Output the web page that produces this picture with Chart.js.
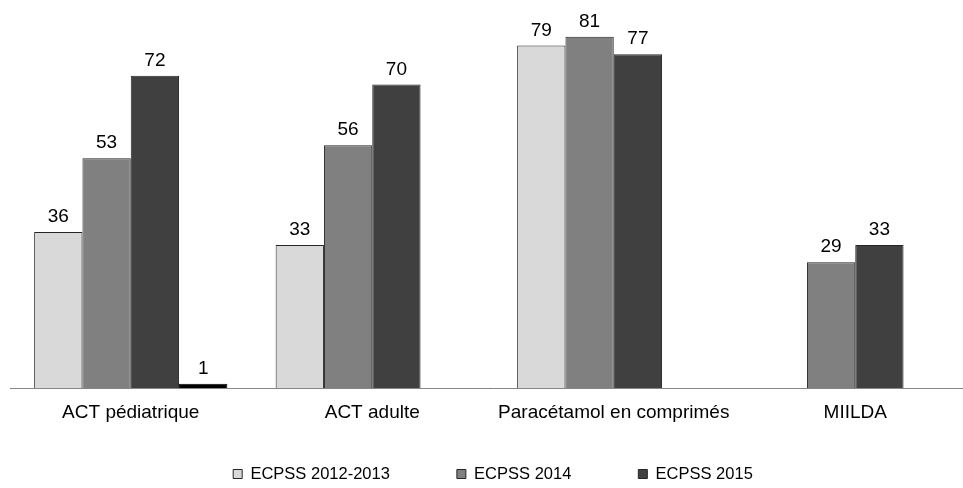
<!DOCTYPE html>
<html lang="fr">
<head>
<meta charset="utf-8">
<title>ECPSS</title>
<script src="https://cdn.jsdelivr.net/npm/chart.js@4/dist/chart.umd.min.js"></script>
<style>
  html, body { margin: 0; padding: 0; background: #fff; overflow: hidden; }
</style>
</head>
<body>
<canvas id="graphique" width="976" height="488"></canvas>
<script>
const categories = ['ACT pédiatrique', 'ACT adulte', 'Paracétamol en comprimés', 'MIILDA'];
const ecpss_2012_2013 = [36, 33, 79, null];
const ecpss_2014 = [53, 56, 81, 29];
const ecpss_2015 = [72, 70, 77, 33];
const autre = [1, null, null, null];

const police = '"Liberation Sans", Arial, sans-serif';

// valeurs au-dessus des barres
const etiquettes = {
    id: 'etiquettes',
    afterDatasetsDraw(chart) {
        const ctx = chart.ctx;
        ctx.save();
        ctx.font = '19px ' + police;
        ctx.fillStyle = '#000';
        ctx.textAlign = 'center';
        ctx.textBaseline = 'alphabetic';
        chart.data.datasets.forEach((ds, i) => {
            chart.getDatasetMeta(i).data.forEach((bar, j) => {
                const v = ds.data[j];
                if (v === null || v === undefined) return;
                ctx.fillText(String(v), bar.x, bar.y - 10);
            });
        });
        ctx.restore();
    }
};

const ctx = document.getElementById('graphique').getContext('2d');

new Chart(ctx, {
    type: 'bar',
    data: {
        labels: categories,
        datasets: [
            { label: 'ECPSS 2012-2013', data: ecpss_2012_2013, backgroundColor: '#d9d9d9', borderColor: '#262626', borderWidth: 1 },
            { label: 'ECPSS 2014', data: ecpss_2014, backgroundColor: '#808080', borderColor: '#262626', borderWidth: 1 },
            { label: 'ECPSS 2015', data: ecpss_2015, backgroundColor: '#404040', borderColor: '#262626', borderWidth: 1 },
            { label: '', data: autre, backgroundColor: '#000', borderColor: '#000', borderWidth: 1 }
        ]
    },
    options: {
        responsive: false,
        animation: false,
        devicePixelRatio: 1,
        layout: { padding: { left: 10, right: 0, top: 0, bottom: -4.25 } },
        datasets: { bar: { categoryPercentage: 0.8, barPercentage: 1 } },
        plugins: {
            legend: {
                display: true,
                position: 'bottom',
                labels: {
                    boxWidth: 9,
                    boxHeight: 9,
                    padding: 67,
                    color: '#000',
                    font: { size: 16.5, family: police },
                    filter: item => item.datasetIndex < 3
                }
            },
            tooltip: { enabled: false }
        },
        scales: {
            y: { display: false, min: 0, max: 89.5 },
            x: {
                grid: { display: false, drawTicks: false },
                border: { display: true, color: '#868686', width: 1 },
                ticks: {
                    color: '#000',
                    // mirror évite le découpage des libellés sous l'axe
                    mirror: true,
                    padding: -35.8,
                    maxRotation: 0,
                    autoSkip: false,
                    font: { size: 19, family: police }
                },
                afterFit: scale => { scale.height = 10.75; }
            }
        }
    },
    plugins: [etiquettes]
});
</script>
</body>
</html>
